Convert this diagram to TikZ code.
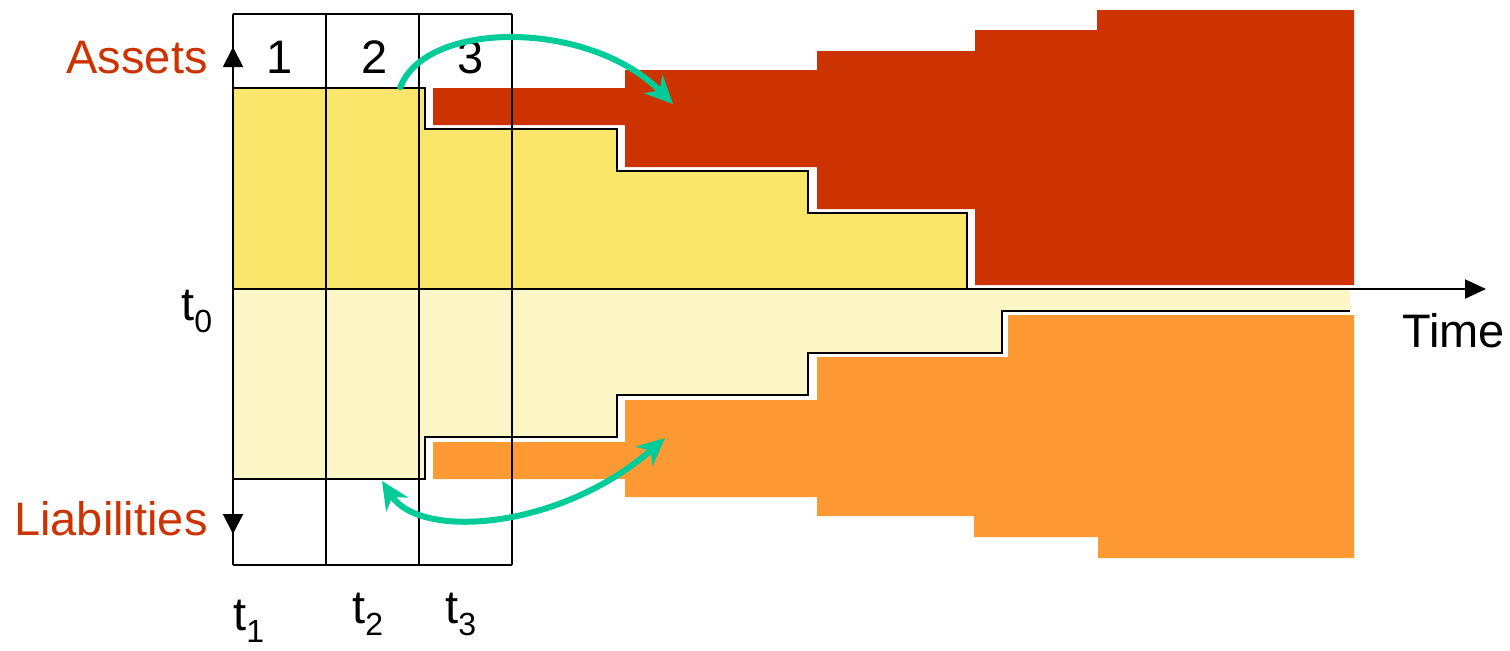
\documentclass[tikz,border=0pt]{standalone}
\usepackage{fontspec}
\setmainfont{Liberation Sans}
\usepackage{tikz}
\usetikzlibrary{arrows.meta, positioning}
\definecolor{assetred}{RGB}{204,51,0}
\definecolor{liaborange}{RGB}{255,153,51}
\definecolor{assetyellow}{RGB}{249,230,106}
\definecolor{liabyellow}{RGB}{252,246,198}
\definecolor{flowgreen}{RGB}{0,204,153}
\newcommand{\tsub}[1]{t\raisebox{-6pt}{\fontsize{16}{18}\selectfont #1}}
\tikzset{
  gridline/.style={line width=1pt, color=black},
  outline/.style={line width=1.1pt, color=black},
  bigtext/.style={font=\fontsize{23.5}{28}\selectfont, inner sep=0pt},
  sidelabel/.style={bigtext, color=assetred, anchor=base east},
  flowarrow/.style={line width=3pt, color=flowgreen,
    {Round Cap}-{Stealth[length=14pt,width=13pt,inset=4.5pt]}},
  flowboth/.style={line width=3pt, color=flowgreen,
    {Stealth[length=14pt,width=13pt,inset=4.5pt]}-{Stealth[length=14pt,width=13pt,inset=4.5pt]}},
  axisarrow/.style={line width=1pt, -{Triangle[length=10.5pt,width=9.5pt]}}
}
\begin{document}
\begin{tikzpicture}[x=0.5pt, y=-0.5pt]
  \useasboundingbox (0,0) rectangle (1510,650);

  % Assets block (yellow) and reinvested assets (red)
  \fill[assetyellow] (233,88) -- (425,88) -- (425,129) -- (617,129) -- (617,171)
    -- (808,171) -- (808,213) -- (967,213) -- (967,289) -- (233,289) -- cycle;
  \fill[assetred] (433,88) -- (625,88) -- (625,70) -- (817,70) -- (817,51)
    -- (975,51) -- (975,30) -- (1097,30) -- (1097,10) -- (1354,10) -- (1354,285)
    -- (975,285) -- (975,209) -- (817,209) -- (817,167) -- (625,167) -- (625,125)
    -- (433,125) -- cycle;

  % Liabilities block (light yellow) and new liabilities (orange)
  \fill[liabyellow] (233,289) -- (1350,289) -- (1350,311) -- (1002,311) -- (1002,353)
    -- (808,353) -- (808,395) -- (617,395) -- (617,437) -- (425,437) -- (425,479)
    -- (233,479) -- cycle;
  \fill[liaborange] (433,442) -- (625,442) -- (625,400) -- (817,400) -- (817,357)
    -- (1008,357) -- (1008,315) -- (1354,315) -- (1354,558) -- (1098,558)
    -- (1098,537) -- (974,537) -- (974,516) -- (817,516) -- (817,497) -- (625,497)
    -- (625,479) -- (433,479) -- cycle;

  % Step outlines
  \draw[outline] (233,88) -- (425,88) -- (425,129) -- (617,129) -- (617,171)
    -- (808,171) -- (808,213) -- (967,213) -- (967,289);
  \draw[outline] (1350,311) -- (1002,311) -- (1002,353) -- (808,353) -- (808,395)
    -- (617,395) -- (617,437) -- (425,437) -- (425,479) -- (233,479);

  % Period grid
  \foreach \gx in {233,326,419,512}
    \draw[gridline] (\gx,14) -- (\gx,565);
  \draw[gridline] (233,14) -- (512,14);
  \draw[gridline] (233,565) -- (512,565);
  \draw[-{Triangle[length=10pt,width=10pt]}, line width=1pt] (233,70) -- (233,47);
  \draw[-{Triangle[length=10pt,width=10pt]}, line width=1pt] (233,510) -- (233,534);

  % Time axis
  \coordinate (origin) at (233,289);
  \coordinate (tend) at (1486,289);
  \draw[axisarrow] (origin) -- (tend);

  % Labels
  \node[sidelabel] (assets) at (208,73) {Assets};
  \node[sidelabel] (liab) at (208,535) {Liabilities};
  \node[bigtext, anchor=base west] (time) at (1402,347) {Time};
  \node[bigtext, anchor=base] (p1) at (280,73) {1};
  \node[bigtext, anchor=base] (p2) at (375,73) {2};
  \node[bigtext, anchor=base] (p3) at (471,73) {3};
  \node[bigtext, anchor=base west] (t0) at (181,320) {\tsub{0}};
  \node[bigtext, anchor=base west] (t1) at (233,630) {\tsub{1}};
  \node[bigtext, anchor=base west] (t2) at (352,623) {\tsub{2}};
  \node[bigtext, anchor=base west] (t3) at (445,623) {\tsub{3}};

  % Maturing flows
  \coordinate (afrom) at (399,90);
  \coordinate (ato) at (673,104);
  \coordinate (lfrom) at (382,481);
  \coordinate (lto) at (665,438);
  \draw[flowarrow] (afrom) .. controls (430,20) and (590,20) .. (ato);
  \draw[flowboth] (lfrom) .. controls (420,540) and (560,530) .. (lto);
\end{tikzpicture}
\end{document}
